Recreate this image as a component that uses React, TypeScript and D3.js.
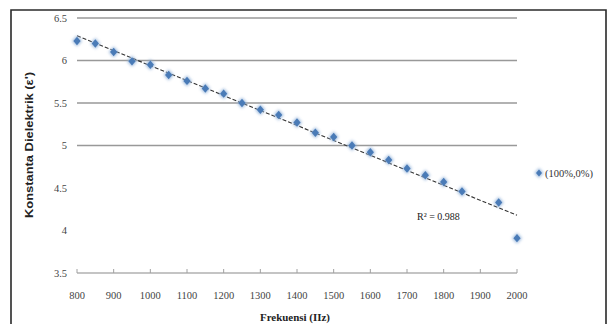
import React, { useEffect, useRef } from 'react';
import * as d3 from 'd3';

const frekuensi = [800, 850, 900, 950, 1000, 1050, 1100, 1150, 1200, 1250, 1300, 1350, 1400, 1450, 1500, 1550, 1600, 1650, 1700, 1750, 1800, 1850, 1950, 2000];
const konstanta = [6.23, 6.2, 6.1, 5.99, 5.95, 5.83, 5.76, 5.67, 5.61, 5.5, 5.42, 5.36, 5.27, 5.15, 5.1, 5.0, 4.92, 4.83, 4.73, 4.65, 4.57, 4.46, 4.33, 3.91];
const xTicks = [800, 900, 1000, 1100, 1200, 1300, 1400, 1500, 1600, 1700, 1800, 1900, 2000];
const yTicks = [3.5, 4, 4.5, 5, 5.5, 6, 6.5];
const gridShown = [5, 5.5, 6, 6.5];
const seriesName = '(100%,0%)';
const r2Label = 'R² = 0.988';

// small diamond, a bit taller than wide
const diamondPath = (w: number, h: number) => {
  const p = d3.path();
  p.moveTo(0, -h);
  p.lineTo(w, 0);
  p.lineTo(0, h);
  p.lineTo(-w, 0);
  p.closePath();
  return p.toString();
};

const App = () => {
  const svgRef = useRef<SVGSVGElement>(null);

  useEffect(() => {
    const svg = d3.select(svgRef.current);
    svg.selectAll('*').remove();

    const x = d3.scaleLinear().domain([800, 2000]).range([77, 517]);
    const y = d3.scaleLinear().domain([3.5, 6.5]).range([273, 18]);
    const serif = '"Liberation Serif", "DejaVu Serif", serif';

    const defs = svg.append('defs');
    defs.append('filter').attr('id', 'glow')
      .attr('x', '-100%').attr('y', '-100%').attr('width', '300%').attr('height', '300%')
      .append('feGaussianBlur').attr('stdDeviation', 1.5);

    // frame
    svg.append('path')
      .attr('d', 'M11,330 L11,10 L606,10 L606,330')
      .attr('fill', 'none')
      .attr('stroke', '#2a2a2a')
      .attr('stroke-width', 1.6);

    // gridlines
    svg.append('g').selectAll('line')
      .data(gridShown)
      .enter().append('line')
      .attr('x1', x(800)).attr('x2', x(2000))
      .attr('y1', d => y(d)).attr('y2', d => y(d))
      .attr('stroke', '#999').attr('stroke-width', 1.3);

    // x axis line + ticks
    svg.append('line')
      .attr('x1', x(800)).attr('x2', x(2000))
      .attr('y1', y(3.5)).attr('y2', y(3.5))
      .attr('stroke', '#8a8a8a').attr('stroke-width', 1.1);
    svg.append('g').selectAll('line')
      .data(xTicks)
      .enter().append('line')
      .attr('x1', d => x(d)).attr('x2', d => x(d))
      .attr('y1', y(3.5)).attr('y2', y(3.5) - 4)
      .attr('stroke', '#a0a0a0').attr('stroke-width', 1);

    // tick labels
    svg.append('g').selectAll('text')
      .data(xTicks)
      .enter().append('text')
      .attr('x', d => x(d)).attr('y', 299)
      .attr('text-anchor', 'middle')
      .attr('font-family', serif).attr('font-size', 10.5)
      .attr('fill', '#444')
      .text(d => d);
    svg.append('g').selectAll('text')
      .data(yTicks)
      .enter().append('text')
      .attr('x', 67).attr('y', d => y(d) + 3.5)
      .attr('text-anchor', 'end')
      .attr('font-family', serif).attr('font-size', 10.5)
      .attr('fill', '#444')
      .text(d => d);

    // axis titles
    svg.append('text')
      .attr('x', 295).attr('y', 321)
      .attr('text-anchor', 'middle')
      .attr('font-family', serif).attr('font-size', 11).attr('font-weight', 'bold')
      .attr('fill', '#222')
      .attr('textLength', 70).attr('lengthAdjust', 'spacingAndGlyphs')
      .text('Frekuensi (IIz)');
    svg.append('text')
      .attr('transform', 'translate(33,145) rotate(-90)')
      .attr('text-anchor', 'middle')
      .attr('font-family', '"Liberation Sans", Arial, sans-serif').attr('font-size', 11).attr('font-weight', 'bold')
      .attr('fill', '#222')
      .attr('textLength', 146).attr('lengthAdjust', 'spacingAndGlyphs')
      .text("Konstanta Dielektrik (ε')");

    // linear trendline from least squares
    const mx = d3.mean(frekuensi) as number;
    const my = d3.mean(konstanta) as number;
    const slope = d3.sum(frekuensi, (f, i) => (f - mx) * (konstanta[i] - my)) /
      d3.sum(frekuensi, f => (f - mx) * (f - mx));
    const icpt = my - slope * mx;
    svg.append('line')
      .attr('x1', x(800)).attr('y1', y(icpt + slope * 800))
      .attr('x2', x(2000)).attr('y2', y(icpt + slope * 2000))
      .attr('stroke', '#333').attr('stroke-width', 1.1)
      .attr('stroke-dasharray', '4,2');

    // points
    const pts = svg.append('g');
    pts.selectAll('path.glow')
      .data(frekuensi)
      .enter().append('path')
      .attr('class', 'glow')
      .attr('d', diamondPath(5, 5.5))
      .attr('transform', (d, i) => `translate(${x(d)},${y(konstanta[i])})`)
      .attr('fill', '#8fb0d8').attr('opacity', 0.85)
      .attr('filter', 'url(#glow)');
    pts.selectAll('path.pt')
      .data(frekuensi)
      .enter().append('path')
      .attr('class', 'pt')
      .attr('d', diamondPath(3.6, 4.2))
      .attr('transform', (d, i) => `translate(${x(d)},${y(konstanta[i])})`)
      .attr('fill', '#4a7bb7');

    // R² label
    svg.append('text')
      .attr('x', 417).attr('y', 220)
      .attr('font-family', serif).attr('font-size', 10)
      .attr('fill', '#222')
      .text(r2Label);

    // legend
    svg.append('path')
      .attr('d', diamondPath(4.5, 5))
      .attr('transform', 'translate(539,173)')
      .attr('fill', '#8fb0d8').attr('opacity', 0.85)
      .attr('filter', 'url(#glow)');
    svg.append('path')
      .attr('d', diamondPath(3, 3.6))
      .attr('transform', 'translate(539,173)')
      .attr('fill', '#4a7bb7');
    svg.append('text')
      .attr('x', 545).attr('y', 176.5)
      .attr('font-family', serif).attr('font-size', 10.5)
      .attr('fill', '#333')
      .text(seriesName);
  }, []);

  return (
    <svg
      ref={svgRef}
      width={608}
      height={324}
      style={{ position: 'absolute', left: 0, top: 0, background: '#fff' }}
    />
  );
};

export default App;
